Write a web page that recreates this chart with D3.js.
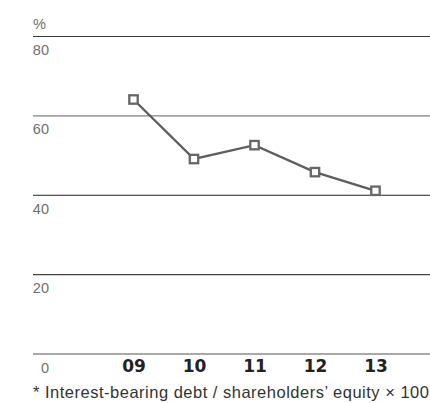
<!DOCTYPE html>
<html>
<head>
<meta charset="utf-8">
<script src="https://cdn.jsdelivr.net/npm/d3@7"></script>
<style>
  html, body { margin: 0; padding: 0; background: #fff; }
  svg { display: block; }
</style>
</head>
<body>
<script>
// Debt/equity ratio by fiscal year
const years = ["09", "10", "11", "12", "13"];
const ratios = [64.0, 49.0, 52.5, 45.7, 41.0];
const yTicks = [0, 20, 40, 60, 80];
const unitLabel = "%";
const footnote = "* Interest-bearing debt / shareholders\u2019 equity \u00d7 100";

const W = 430, H = 403;
const svg = d3.select("body").append("svg").attr("width", W).attr("height", H);

const left = 33, right = 430;
const y = d3.scaleLinear().domain([0, 80]).range([353.5, 36]);
const x = d3.scalePoint().domain(years).range([133.5, 375.5]);

const labelFont = "'Liberation Sans', Arial, sans-serif";

// Horizontal grid lines with tick labels underneath
const gridColor = { 0: "#555", 20: "#444", 40: "#222", 60: "#808080", 80: "#3a3a3a" };
const yAxis = d3.axisRight(y).tickValues(yTicks).tickSize(right - left).tickFormat(d3.format("d"));
const gy = svg.append("g").attr("transform", `translate(${left},0)`).call(yAxis);
gy.select(".domain").remove();
gy.selectAll(".tick line")
  .attr("stroke", d => gridColor[d])
  .attr("stroke-width", d => d === 60 ? 1.4 : 1.1);
gy.selectAll(".tick text")
  .attr("x", 16)
  .attr("dy", 0)
  .attr("y", 18.5)
  .attr("text-anchor", "end")
  .attr("fill", "#707070")
  .style("font-family", labelFont)
  .style("font-size", "14.5px");

svg.append("text")
  .attr("x", left).attr("y", 28.5)
  .attr("fill", "#707070")
  .style("font-family", labelFont)
  .style("font-size", "14.5px")
  .text(unitLabel);

// Year labels
const xAxis = d3.axisBottom(x).tickSize(0).tickPadding(0);
const gx = svg.append("g").attr("transform", "translate(0,371.5)").call(xAxis);
gx.select(".domain").remove();
gx.selectAll(".tick text")
  .attr("y", 0).attr("dy", 0)
  .attr("fill", "#222")
  .style("font-family", "'DejaVu Sans', sans-serif")
  .style("font-weight", "bold")
  .style("font-size", "17px");

// Ratio line with square markers
const line = d3.line().x((d, i) => x(years[i])).y(d => y(d));
svg.append("path")
  .datum(ratios)
  .attr("d", line)
  .attr("fill", "none")
  .attr("stroke", "#5e5e5e")
  .attr("stroke-width", 2.4);

const s = 8.4;
svg.selectAll("rect.pt")
  .data(ratios)
  .join("rect")
  .attr("class", "pt")
  .attr("x", (d, i) => x(years[i]) - s / 2)
  .attr("y", d => y(d) - s / 2)
  .attr("width", s).attr("height", s)
  .attr("fill", "#fff")
  .attr("stroke", "#666")
  .attr("stroke-width", 2.3);

// Footnote
svg.append("text")
  .attr("x", left).attr("y", 397.5)
  .attr("fill", "#333")
  .style("font-family", labelFont)
  .style("font-size", "16.5px")
  .style("letter-spacing", "0.5px")
  .text(footnote);
</script>
</body>
</html>
